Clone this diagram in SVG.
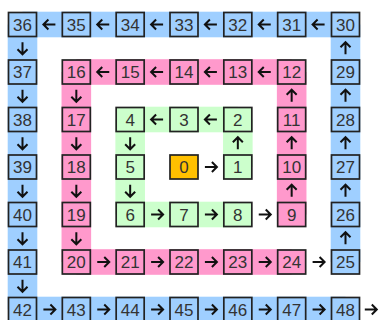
<svg xmlns="http://www.w3.org/2000/svg" xmlns:xlink="http://www.w3.org/1999/xlink" width="382" height="320" viewBox="0 0 382 320">
<style>
.b{fill:#9fcfff}.p{fill:#ff99cc}.g{fill:#ccffcc}
.box rect{stroke:#222;stroke-width:1.7}
.box text{font-family:"Liberation Sans",Arial,sans-serif;font-size:17px;fill:#333;text-anchor:middle}
.ar{fill:none;stroke:#111;stroke-width:2;stroke-linecap:butt;stroke-linejoin:miter}
</style>
<defs>
<path id="ar" class="ar" d="M-6,0 H6 M1,-5 L6,0 L1,5"/>
</defs>
<rect width="382" height="320" fill="#fff"/>
<g id="bands">
<rect class="b" x="22.5" y="11.7" width="323" height="25.6"/>
<rect class="b" x="7.7" y="24.5" width="29.6" height="285"/>
<rect class="b" x="330.7" y="24.5" width="29.6" height="237.5"/>
<rect class="b" x="22.5" y="296.7" width="323" height="25.6"/>
<rect class="p" x="76.33" y="59.2" width="215.34" height="25.6"/>
<rect class="p" x="61.53" y="72" width="29.6" height="190"/>
<rect class="p" x="276.87" y="72" width="29.6" height="142.5"/>
<rect class="p" x="76.33" y="249.2" width="215.34" height="25.6"/>
<rect class="g" x="130.17" y="106.7" width="107.66" height="25.6"/>
<rect class="g" x="115.37" y="119.5" width="29.6" height="95"/>
<rect class="g" x="223.03" y="119.5" width="29.6" height="47.5"/>
<rect class="g" x="130.17" y="201.7" width="107.66" height="25.6"/>
</g>
<g id="connectors">
<use xlink:href="#ar" transform="translate(210.9,167)"/>
<use xlink:href="#ar" transform="translate(237.83,143.25) rotate(-90)"/>
<use xlink:href="#ar" transform="translate(210.9,119.5) rotate(180)"/>
<use xlink:href="#ar" transform="translate(157.1,119.5) rotate(180)"/>
<use xlink:href="#ar" transform="translate(130.17,143.25) rotate(90)"/>
<use xlink:href="#ar" transform="translate(130.17,190.75) rotate(90)"/>
<use xlink:href="#ar" transform="translate(157.1,214.5)"/>
<use xlink:href="#ar" transform="translate(210.9,214.5)"/>
<use xlink:href="#ar" transform="translate(264.75,214.5)"/>
<use xlink:href="#ar" transform="translate(291.67,190.75) rotate(-90)"/>
<use xlink:href="#ar" transform="translate(291.67,143.25) rotate(-90)"/>
<use xlink:href="#ar" transform="translate(291.67,95.75) rotate(-90)"/>
<use xlink:href="#ar" transform="translate(264.75,72) rotate(180)"/>
<use xlink:href="#ar" transform="translate(210.9,72) rotate(180)"/>
<use xlink:href="#ar" transform="translate(157.1,72) rotate(180)"/>
<use xlink:href="#ar" transform="translate(103.25,72) rotate(180)"/>
<use xlink:href="#ar" transform="translate(76.33,95.75) rotate(90)"/>
<use xlink:href="#ar" transform="translate(76.33,143.25) rotate(90)"/>
<use xlink:href="#ar" transform="translate(76.33,190.75) rotate(90)"/>
<use xlink:href="#ar" transform="translate(76.33,238.25) rotate(90)"/>
<use xlink:href="#ar" transform="translate(103.25,262)"/>
<use xlink:href="#ar" transform="translate(157.1,262)"/>
<use xlink:href="#ar" transform="translate(210.9,262)"/>
<use xlink:href="#ar" transform="translate(264.75,262)"/>
<use xlink:href="#ar" transform="translate(318.6,262)"/>
<use xlink:href="#ar" transform="translate(345.5,238.25) rotate(-90)"/>
<use xlink:href="#ar" transform="translate(345.5,190.75) rotate(-90)"/>
<use xlink:href="#ar" transform="translate(345.5,143.25) rotate(-90)"/>
<use xlink:href="#ar" transform="translate(345.5,95.75) rotate(-90)"/>
<use xlink:href="#ar" transform="translate(345.5,48.25) rotate(-90)"/>
<use xlink:href="#ar" transform="translate(318.6,24.5) rotate(180)"/>
<use xlink:href="#ar" transform="translate(264.75,24.5) rotate(180)"/>
<use xlink:href="#ar" transform="translate(210.9,24.5) rotate(180)"/>
<use xlink:href="#ar" transform="translate(157.1,24.5) rotate(180)"/>
<use xlink:href="#ar" transform="translate(103.25,24.5) rotate(180)"/>
<use xlink:href="#ar" transform="translate(49.4,24.5) rotate(180)"/>
<use xlink:href="#ar" transform="translate(22.5,48.25) rotate(90)"/>
<use xlink:href="#ar" transform="translate(22.5,95.75) rotate(90)"/>
<use xlink:href="#ar" transform="translate(22.5,143.25) rotate(90)"/>
<use xlink:href="#ar" transform="translate(22.5,190.75) rotate(90)"/>
<use xlink:href="#ar" transform="translate(22.5,238.25) rotate(90)"/>
<use xlink:href="#ar" transform="translate(22.5,285.75) rotate(90)"/>
<use xlink:href="#ar" transform="translate(49.4,309.5)"/>
<use xlink:href="#ar" transform="translate(103.25,309.5)"/>
<use xlink:href="#ar" transform="translate(157.1,309.5)"/>
<use xlink:href="#ar" transform="translate(210.9,309.5)"/>
<use xlink:href="#ar" transform="translate(264.75,309.5)"/>
<use xlink:href="#ar" transform="translate(318.6,309.5)"/>
<use xlink:href="#ar" transform="translate(370.8,309.5)"/>
</g>
<g id="n0" class="box"><rect x="170" y="155" width="28" height="24" fill="#ffc000"/><text x="184" y="173">0</text></g>
<g id="n1" class="box"><rect class="g" x="223.83" y="155" width="28" height="24"/><text x="237.83" y="173">1</text></g>
<g id="n2" class="box"><rect class="g" x="223.83" y="107.5" width="28" height="24"/><text x="237.83" y="125.5">2</text></g>
<g id="n3" class="box"><rect class="g" x="170" y="107.5" width="28" height="24"/><text x="184" y="125.5">3</text></g>
<g id="n4" class="box"><rect class="g" x="116.17" y="107.5" width="28" height="24"/><text x="130.17" y="125.5">4</text></g>
<g id="n5" class="box"><rect class="g" x="116.17" y="155" width="28" height="24"/><text x="130.17" y="173">5</text></g>
<g id="n6" class="box"><rect class="g" x="116.17" y="202.5" width="28" height="24"/><text x="130.17" y="220.5">6</text></g>
<g id="n7" class="box"><rect class="g" x="170" y="202.5" width="28" height="24"/><text x="184" y="220.5">7</text></g>
<g id="n8" class="box"><rect class="g" x="223.83" y="202.5" width="28" height="24"/><text x="237.83" y="220.5">8</text></g>
<g id="n9" class="box"><rect class="p" x="277.67" y="202.5" width="28" height="24"/><text x="291.67" y="220.5">9</text></g>
<g id="n10" class="box"><rect class="p" x="277.67" y="155" width="28" height="24"/><text x="291.67" y="173">10</text></g>
<g id="n11" class="box"><rect class="p" x="277.67" y="107.5" width="28" height="24"/><text x="291.67" y="125.5">11</text></g>
<g id="n12" class="box"><rect class="p" x="277.67" y="60" width="28" height="24"/><text x="291.67" y="78">12</text></g>
<g id="n13" class="box"><rect class="p" x="223.83" y="60" width="28" height="24"/><text x="237.83" y="78">13</text></g>
<g id="n14" class="box"><rect class="p" x="170" y="60" width="28" height="24"/><text x="184" y="78">14</text></g>
<g id="n15" class="box"><rect class="p" x="116.17" y="60" width="28" height="24"/><text x="130.17" y="78">15</text></g>
<g id="n16" class="box"><rect class="p" x="62.33" y="60" width="28" height="24"/><text x="76.33" y="78">16</text></g>
<g id="n17" class="box"><rect class="p" x="62.33" y="107.5" width="28" height="24"/><text x="76.33" y="125.5">17</text></g>
<g id="n18" class="box"><rect class="p" x="62.33" y="155" width="28" height="24"/><text x="76.33" y="173">18</text></g>
<g id="n19" class="box"><rect class="p" x="62.33" y="202.5" width="28" height="24"/><text x="76.33" y="220.5">19</text></g>
<g id="n20" class="box"><rect class="p" x="62.33" y="250" width="28" height="24"/><text x="76.33" y="268">20</text></g>
<g id="n21" class="box"><rect class="p" x="116.17" y="250" width="28" height="24"/><text x="130.17" y="268">21</text></g>
<g id="n22" class="box"><rect class="p" x="170" y="250" width="28" height="24"/><text x="184" y="268">22</text></g>
<g id="n23" class="box"><rect class="p" x="223.83" y="250" width="28" height="24"/><text x="237.83" y="268">23</text></g>
<g id="n24" class="box"><rect class="p" x="277.67" y="250" width="28" height="24"/><text x="291.67" y="268">24</text></g>
<g id="n25" class="box"><rect class="b" x="331.5" y="250" width="28" height="24"/><text x="345.5" y="268">25</text></g>
<g id="n26" class="box"><rect class="b" x="331.5" y="202.5" width="28" height="24"/><text x="345.5" y="220.5">26</text></g>
<g id="n27" class="box"><rect class="b" x="331.5" y="155" width="28" height="24"/><text x="345.5" y="173">27</text></g>
<g id="n28" class="box"><rect class="b" x="331.5" y="107.5" width="28" height="24"/><text x="345.5" y="125.5">28</text></g>
<g id="n29" class="box"><rect class="b" x="331.5" y="60" width="28" height="24"/><text x="345.5" y="78">29</text></g>
<g id="n30" class="box"><rect class="b" x="331.5" y="12.5" width="28" height="24"/><text x="345.5" y="30.5">30</text></g>
<g id="n31" class="box"><rect class="b" x="277.67" y="12.5" width="28" height="24"/><text x="291.67" y="30.5">31</text></g>
<g id="n32" class="box"><rect class="b" x="223.83" y="12.5" width="28" height="24"/><text x="237.83" y="30.5">32</text></g>
<g id="n33" class="box"><rect class="b" x="170" y="12.5" width="28" height="24"/><text x="184" y="30.5">33</text></g>
<g id="n34" class="box"><rect class="b" x="116.17" y="12.5" width="28" height="24"/><text x="130.17" y="30.5">34</text></g>
<g id="n35" class="box"><rect class="b" x="62.33" y="12.5" width="28" height="24"/><text x="76.33" y="30.5">35</text></g>
<g id="n36" class="box"><rect class="b" x="8.5" y="12.5" width="28" height="24"/><text x="22.5" y="30.5">36</text></g>
<g id="n37" class="box"><rect class="b" x="8.5" y="60" width="28" height="24"/><text x="22.5" y="78">37</text></g>
<g id="n38" class="box"><rect class="b" x="8.5" y="107.5" width="28" height="24"/><text x="22.5" y="125.5">38</text></g>
<g id="n39" class="box"><rect class="b" x="8.5" y="155" width="28" height="24"/><text x="22.5" y="173">39</text></g>
<g id="n40" class="box"><rect class="b" x="8.5" y="202.5" width="28" height="24"/><text x="22.5" y="220.5">40</text></g>
<g id="n41" class="box"><rect class="b" x="8.5" y="250" width="28" height="24"/><text x="22.5" y="268">41</text></g>
<g id="n42" class="box"><rect class="b" x="8.5" y="297.5" width="28" height="24"/><text x="22.5" y="315.5">42</text></g>
<g id="n43" class="box"><rect class="b" x="62.33" y="297.5" width="28" height="24"/><text x="76.33" y="315.5">43</text></g>
<g id="n44" class="box"><rect class="b" x="116.17" y="297.5" width="28" height="24"/><text x="130.17" y="315.5">44</text></g>
<g id="n45" class="box"><rect class="b" x="170" y="297.5" width="28" height="24"/><text x="184" y="315.5">45</text></g>
<g id="n46" class="box"><rect class="b" x="223.83" y="297.5" width="28" height="24"/><text x="237.83" y="315.5">46</text></g>
<g id="n47" class="box"><rect class="b" x="277.67" y="297.5" width="28" height="24"/><text x="291.67" y="315.5">47</text></g>
<g id="n48" class="box"><rect class="b" x="331.5" y="297.5" width="28" height="24"/><text x="345.5" y="315.5">48</text></g>
</svg>
